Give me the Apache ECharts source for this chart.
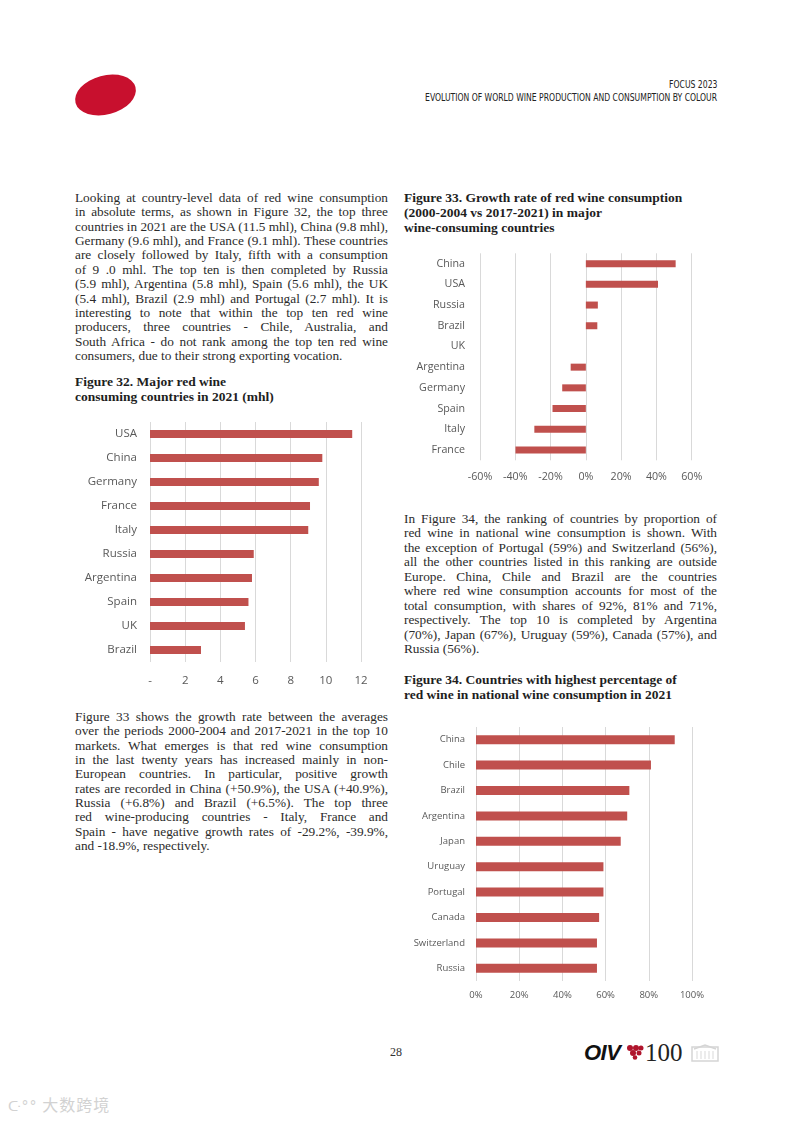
<!DOCTYPE html>
<html><head><meta charset="utf-8">
<script src="https://cdn.jsdelivr.net/npm/echarts/dist/echarts.min.js"></script>
<style>
html,body{margin:0;padding:0}
body{width:793px;height:1121px;position:relative;background:#fff;overflow:hidden;font-family:'Liberation Serif','Times New Roman',serif;color:#2b2b2b}
.ln{position:absolute;white-space:nowrap;font-size:13.3px;line-height:14px}
.b{font-weight:bold;color:#1e1e1e;font-size:13.5px}
.hd{position:absolute;right:76px;white-space:nowrap;font-family:'Liberation Sans Narrow','DejaVu Sans Condensed','Liberation Sans',sans-serif;font-size:10.5px;line-height:12px;color:#222;transform-origin:100% 50%}
.chart{position:absolute}
</style></head>
<body>
<svg style="position:absolute;left:0;top:0" width="200" height="140">
  <ellipse cx="105.5" cy="95" rx="31" ry="19.5" transform="rotate(-15 105.5 95)" fill="#c8102e"/>
</svg>
<div class="hd" id="h1" style="top:78px">FOCUS 2023</div>
<div class="hd" id="h2" style="top:91px">EVOLUTION OF WORLD WINE PRODUCTION AND CONSUMPTION BY COLOUR</div>

<div class="chart" id="c1" style="left:70px;top:410px;width:330px;height:290px"></div>
<div class="chart" id="c2" style="left:400px;top:240px;width:320px;height:250px"></div>
<div class="chart" id="c3" style="left:400px;top:715px;width:320px;height:295px"></div>

<div style="position:absolute;left:386px;top:1045px;width:20px;text-align:center;font-family:'Liberation Serif',serif;font-size:12px;color:#333">28</div>
<div style="position:absolute;left:584px;top:1040px;font-family:'Liberation Sans',sans-serif;font-weight:bold;font-style:italic;font-size:22px;line-height:26px;color:#111;letter-spacing:-0.5px">OIV</div>
<svg style="position:absolute;left:626px;top:1044px" width="18" height="16">
  <circle cx="4" cy="4" r="3" fill="#b0142c"/><circle cx="10" cy="4" r="3" fill="#b0142c"/><circle cx="15" cy="4" r="2.5" fill="#b0142c"/>
  <circle cx="7" cy="9" r="3" fill="#b0142c"/><circle cx="13" cy="9" r="2.5" fill="#b0142c"/><circle cx="9" cy="13.5" r="2.3" fill="#b0142c"/>
</svg>
<div style="position:absolute;left:645px;top:1039px;font-family:'Liberation Serif',serif;font-size:25px;line-height:28px;color:#222">100</div>
<svg style="position:absolute;left:690px;top:1043px" width="32" height="20">
  <rect x="2" y="4" width="26" height="14" fill="none" stroke="#d5d5d5" stroke-width="1.5"/>
  <path d="M4 6 L15 2 L26 6" fill="none" stroke="#d5d5d5" stroke-width="1.5"/>
  <path d="M7 8 V16 M11 8 V16 M15 8 V16 M19 8 V16 M23 8 V16" stroke="#e0e0e0" stroke-width="1.2"/>
</svg>
<div style="position:absolute;left:8px;top:1094px;font-family:'Noto Sans CJK SC',sans-serif;font-size:16px;line-height:20px;color:#d2d2d2;letter-spacing:1px"><span style="font-family:'DejaVu Sans';font-size:14px">ᑢ°°</span> 大数跨境</div>

<script>
// ---------- DATA ----------
const fig32Countries = ['USA','China','Germany','France','Italy','Russia','Argentina','Spain','UK','Brazil'];
const fig32Values = [11.5, 9.8, 9.6, 9.1, 9.0, 5.9, 5.8, 5.6, 5.4, 2.9];
const fig32Ticks = { min: 0, max: 12, interval: 2 };

const fig33Countries = ['China','USA','Russia','Brazil','UK','Argentina','Germany','Spain','Italy','France'];
const fig33Values = [50.9, 40.9, 6.8, 6.5, null, -8.6, -13.4, -18.9, -29.2, -39.9];
const fig33Ticks = { min: -60, max: 60, interval: 20 };

const fig34Countries = ['China','Chile','Brazil','Argentina','Japan','Uruguay','Portugal','Canada','Switzerland','Russia'];
const fig34Values = [92, 81, 71, 70, 67, 59, 59, 57, 56, 56];
const fig34Ticks = { min: 0, max: 100, interval: 20 };

// ---------- TEXT ----------
const para1 = [
 'Looking at country-level data of red wine consumption',
 'in absolute terms, as shown in Figure 32, the top three',
 'countries in 2021 are the USA (11.5 mhl), China (9.8 mhl),',
 'Germany (9.6 mhl), and France (9.1 mhl). These countries',
 'are closely followed by Italy, fifth with a consumption',
 'of 9 .0 mhl. The top ten is then completed by Russia',
 '(5.9 mhl), Argentina (5.8 mhl), Spain (5.6 mhl), the UK',
 '(5.4 mhl), Brazil (2.9 mhl) and Portugal (2.7 mhl). It is',
 'interesting to note that within the top ten red wine',
 'producers, three countries - Chile, Australia, and',
 'South Africa - do not rank among the top ten red wine',
 'consumers, due to their strong exporting vocation.'
];
const head32 = ['Figure 32. Major red wine','consuming countries in 2021 (mhl)'];
const para2 = [
 'Figure 33 shows the growth rate between the averages',
 'over the periods 2000-2004 and 2017-2021 in the top 10',
 'markets. What emerges is that red wine consumption',
 'in the last twenty years has increased mainly in non-',
 'European countries. In particular, positive growth',
 'rates are recorded in China (+50.9%), the USA (+40.9%),',
 'Russia (+6.8%) and Brazil (+6.5%). The top three',
 'red wine-producing countries - Italy, France and',
 'Spain - have negative growth rates of -29.2%, -39.9%,',
 'and -18.9%, respectively.'
];
const head33 = ['Figure 33. Growth rate of red wine consumption','(2000-2004 vs 2017-2021) in major','wine-consuming countries'];
const para3 = [
 'In Figure 34, the ranking of countries by proportion of',
 'red wine in national wine consumption is shown. With',
 'the exception of Portugal (59%) and Switzerland (56%),',
 'all the other countries listed in this ranking are outside',
 'Europe. China, Chile and Brazil are the countries',
 'where red wine consumption accounts for most of the',
 'total consumption, with shares of 92%, 81% and 71%,',
 'respectively. The top 10 is completed by Argentina',
 '(70%), Japan (67%), Uruguay (59%), Canada (57%), and',
 'Russia (56%).'
];
const head34 = ['Figure 34. Countries with highest percentage of','red wine in national wine consumption in 2021'];

function place(lines, x, y, dy, w, bold){
  lines.forEach((t,i)=>{
    const d=document.createElement('div');
    d.className='ln'+(bold?' b':'');
    d.textContent=t;
    d.style.left=x+'px';
    d.style.top=(y+i*dy-7)+'px';
    document.body.appendChild(d);
    if(w){
      const nat=d.getBoundingClientRect().width;
      const justify=i<lines.length-1;
      if(nat>w){d.style.transformOrigin='0 50%';d.style.transform='scaleX('+(w/nat)+')';}
      else if(justify){
        const sp=(t.match(/ /g)||[]).length;
        if(sp) d.style.wordSpacing=((w-nat)/sp)+'px';
      }
    }
  });
}
place(para1, 75, 198, 14.36, 313, false);
place(head32, 75, 382, 15, 0, true);
place(para2, 75, 717, 14.33, 313, false);
place(head33, 404, 198, 15, 0, true);
place(para3, 404, 519, 14.44, 313, false);
place(head34, 404, 680, 14.5, 0, true);

// header fit
(function(){
  const h2=document.getElementById('h2');
  const w=h2.getBoundingClientRect().width;
  const s=292/w; h2.style.transform='scaleX('+s+')';
  document.getElementById('h1').style.transform='scaleX('+s+')';
})();

// ---------- CHARTS ----------
const BAR='#c0504d', GRID='#d9d9d9', TXT='#595959', FONT="'Open Sans', sans-serif";
function makeBar(id, cats, vals, ticks, g, fs, xMargin, yMargin, barW, fmt){
  const ch=echarts.init(document.getElementById(id),null,{renderer:'canvas'});
  ch.setOption({
    animation:false,
    grid:{left:g[0],top:g[1],width:g[2],height:g[3]},
    xAxis:{type:'value',min:ticks.min,max:ticks.max,interval:ticks.interval,
      axisLine:{show:false},axisTick:{show:false},
      splitLine:{show:true,lineStyle:{color:GRID,width:1}},
      axisLabel:{color:TXT,fontFamily:FONT,fontSize:fs,margin:xMargin,formatter:fmt}},
    yAxis:{type:'category',data:cats,inverse:true,
      axisLine:{show:false,onZero:false},axisTick:{show:false},splitLine:{show:false},
      axisLabel:{color:TXT,fontFamily:FONT,fontSize:fs,margin:yMargin}},
    series:[{type:'bar',data:vals,barWidth:barW,itemStyle:{color:BAR},silent:true}]
  });
}
makeBar('c1', fig32Countries, fig32Values, fig32Ticks, [80,12,211,240], 11.5, 13, 13, 8,
  v => v===0 ? '-' : String(v));
makeBar('c2', fig33Countries, fig33Values, fig33Ticks, [80,13.3,211.7,207], 10.7, 11, 15, 7,
  v => v + '%');
makeBar('c3', fig34Countries, fig34Values, fig34Ticks, [76,12,216,254], 9.5, 9.5, 11, 9,
  v => v + '%');
</script>
</body></html>
